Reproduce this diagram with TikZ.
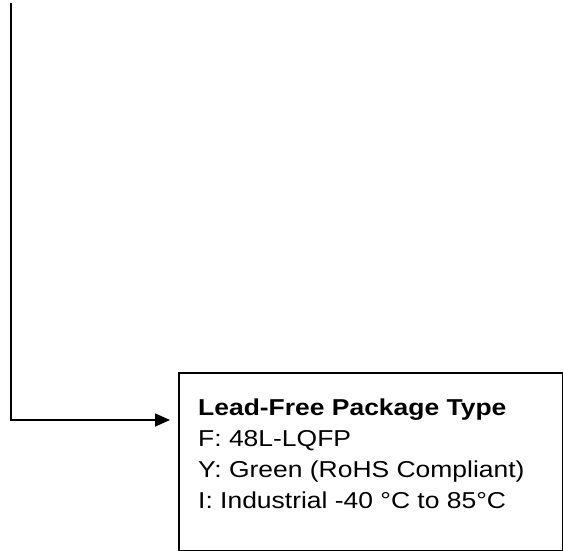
\documentclass[tikz,border=0pt]{standalone}
\usepackage{fontspec}
\setmainfont{Liberation Sans}
\newfontfamily\boxfont[FakeStretch=1.15]{Liberation Sans}
\usepackage{tikz}
\usetikzlibrary{arrows.meta,positioning,calc}
\definecolor{ink}{HTML}{000000}
\tikzset{
  >={Triangle[length=15pt,width=13pt]},
  flow/.style={->,line width=1.8pt,draw=ink,shorten >=8pt},
  infobox/.style={draw=ink,line width=1.6pt,fill=white,anchor=north west,
    minimum width=384pt,minimum height=178pt},
  infotext/.style={align=left,inner sep=0pt,
    font=\boxfont\fontsize{23}{31}\selectfont}
}
\begin{document}
\begin{tikzpicture}[x=1pt,y=-1pt]
  \useasboundingbox (0,0) rectangle (563,551);
  \node[infobox] (pkg) at (178,372) {};
  \node[infotext,below right=27pt and 20pt of pkg.north west] (pkgtext) {\textbf{Lead-Free Package Type}\\F: 48L-LQFP\\Y: Green (RoHS Compliant)\\I: Industrial -40 \textdegree C to 85\textdegree C};
  \coordinate (top) at (11,3);
  \coordinate (turn) at (11,420);
  \draw[flow] (top) -- (turn) -- (turn -| pkg.west);
\end{tikzpicture}
\end{document}
